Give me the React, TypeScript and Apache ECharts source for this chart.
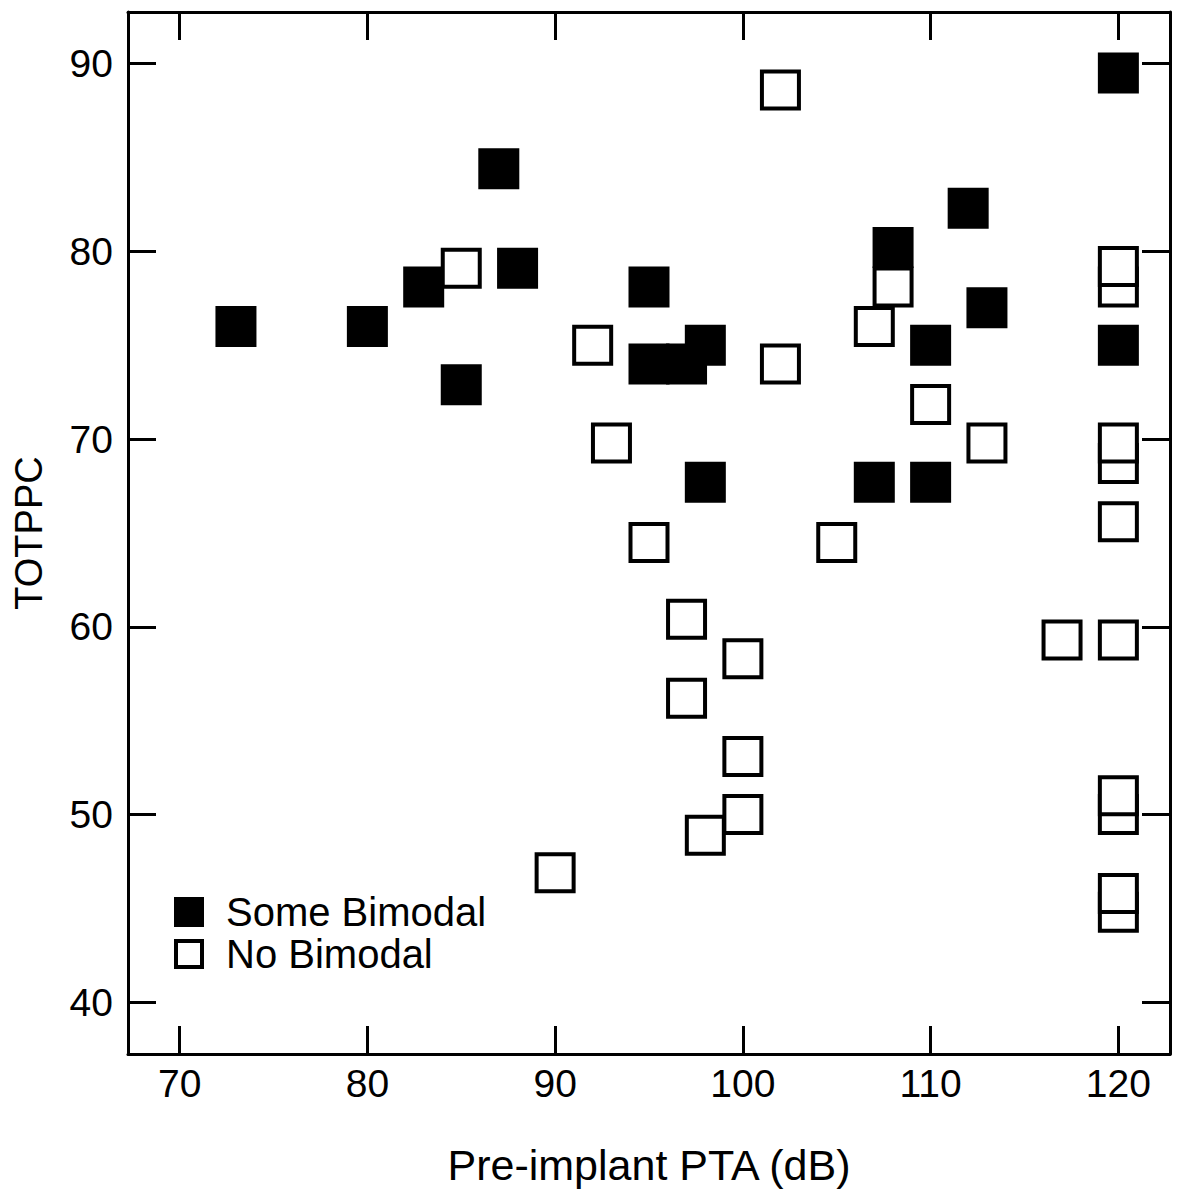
import React, { useEffect, useRef } from "react";
import * as echarts from "echarts";

const xTicks = [70, 80, 90, 100, 110, 120];
const yTicks = [40, 50, 60, 70, 80, 90];

const someBimodal: [number, number][] = [
  [73, 76], [80, 76], [83, 78.1], [85, 72.9], [87, 84.4], [88, 79.1],
  [95, 78.1], [95, 74], [97, 74], [98, 75], [98, 67.7], [107, 67.7],
  [108, 80.2], [110, 75], [110, 67.7], [112, 82.3], [113, 77],
  [120, 89.5], [120, 75],
];

const noBimodal: [number, number][] = [
  [85, 79.1], [92, 75], [93, 69.8], [95, 64.5], [97, 60.4], [97, 56.2],
  [100, 50], [98, 48.9], [100, 58.3], [100, 53.1], [90, 46.9], [102, 88.6],
  [102, 74], [105, 64.5], [107, 76], [108, 78.1], [110, 71.85], [113, 69.8],
  [117, 59.3], [120, 78.1], [120, 79.2], [120, 68.7], [120, 69.8], [120, 65.6],
  [120, 59.3], [120, 50], [120, 51], [120, 44.8], [120, 45.8],
];

const FONT = "Liberation Sans";

export default function App() {
  const ref = useRef<HTMLDivElement>(null);
  useEffect(() => {
    if (!ref.current) return;
    const chart = echarts.init(ref.current, null, { renderer: "svg" });
    const axisLine = { show: true, onZero: false, lineStyle: { color: "#000", width: 3 } };
    const tick = (vals: number[]) => ({
      show: true,
      inside: true,
      length: 28,
      customValues: vals,
      lineStyle: { color: "#000", width: 3 },
    });
    chart.setOption({
      animation: false,
      backgroundColor: "#fff",
      grid: { left: 128, top: 12, right: 8, bottom: 136, containLabel: false },
      legend: {
        orient: "vertical",
        left: 174,
        top: 892,
        padding: 0,
        itemWidth: 26,
        itemHeight: 26,
        itemGap: 2,
        selectedMode: false,
        itemStyle: { borderWidth: 4, borderColor: "#000" },
        textStyle: {
          fontFamily: FONT,
          fontSize: 40,
          color: "#000",
          padding: [0, 0, 0, 19],
        },
        data: [
          { name: "Some Bimodal", icon: "rect" },
          { name: "No Bimodal", icon: "rect" },
        ],
      },
      xAxis: [
        {
          type: "value",
          position: "bottom",
          min: 67.25,
          max: 122.75,
          axisLine,
          axisTick: tick(xTicks),
          splitLine: { show: false },
          axisLabel: {
            customValues: xTicks,
            margin: 10,
            fontFamily: FONT,
            fontSize: 39,
            color: "#000",
          },
          name: "Pre-implant PTA (dB)",
          nameLocation: "middle",
          nameGap: 89,
          nameTextStyle: { fontFamily: FONT, fontSize: 43, color: "#000" },
        },
        {
          type: "value",
          position: "top",
          min: 67.25,
          max: 122.75,
          axisLine,
          axisTick: tick(xTicks),
          splitLine: { show: false },
          axisLabel: { show: false },
        },
      ],
      yAxis: [
        {
          type: "value",
          position: "left",
          min: 37.25,
          max: 92.75,
          axisLine,
          axisTick: tick(yTicks),
          splitLine: { show: false },
          axisLabel: {
            customValues: yTicks,
            margin: 15,
            fontFamily: FONT,
            fontSize: 39,
            color: "#000",
          },
          name: "TOTPPC",
          nameLocation: "middle",
          nameGap: 80,
          nameTextStyle: { fontFamily: FONT, fontSize: 38, color: "#000" },
        },
        {
          type: "value",
          position: "right",
          min: 37.25,
          max: 92.75,
          axisLine,
          axisTick: tick(yTicks),
          splitLine: { show: false },
          axisLabel: { show: false },
        },
      ],
      series: [
        {
          name: "Some Bimodal",
          type: "scatter",
          symbol: "rect",
          symbolSize: 37,
          data: someBimodal,
          itemStyle: { color: "#000", borderColor: "#000", borderWidth: 4, opacity: 1 },
          emphasis: { disabled: true },
        },
        {
          name: "No Bimodal",
          type: "scatter",
          symbol: "rect",
          symbolSize: 37,
          data: noBimodal,
          itemStyle: { color: "#fff", borderColor: "#000", borderWidth: 4, opacity: 1 },
          emphasis: { disabled: true },
        },
      ],
    });
    return () => chart.dispose();
  }, []);
  return (
    <div
      ref={ref}
      style={{ position: "absolute", left: 0, top: 0, width: 1178, height: 1191, background: "#fff" }}
    />
  );
}
